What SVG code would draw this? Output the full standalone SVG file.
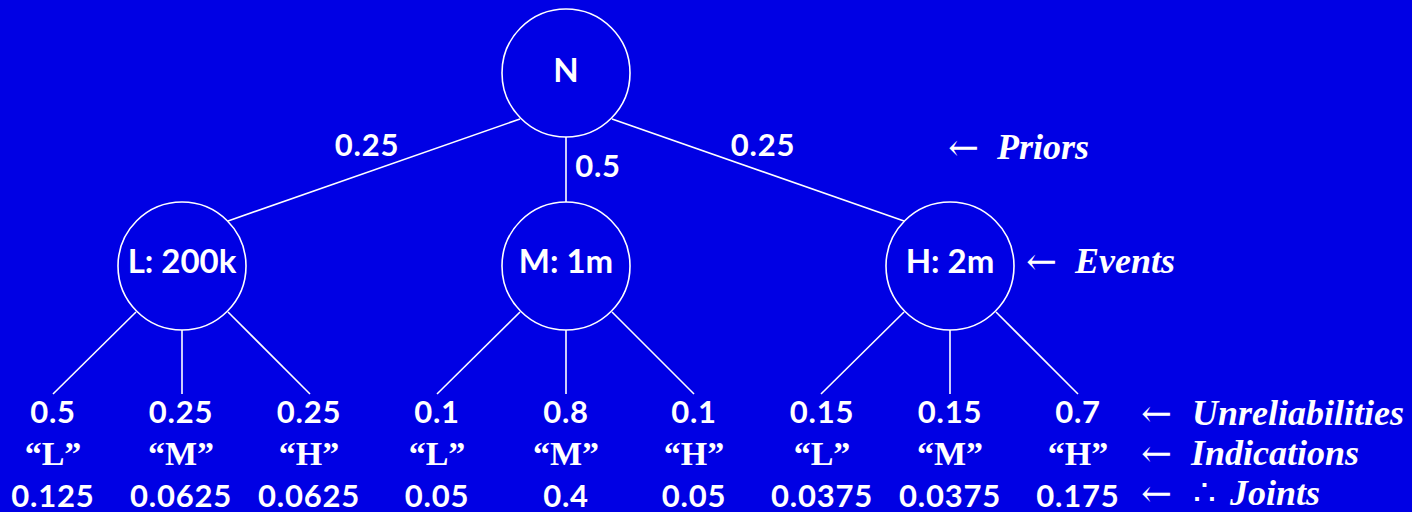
<svg xmlns="http://www.w3.org/2000/svg" width="1412" height="512" viewBox="0 0 1412 512">
<style>
.bg{fill:#0000e4}
.node{fill:none;stroke:#ffffff;stroke-width:1.6}
.edge{stroke:#ffffff;stroke-width:1.6;fill:none}
.lbl{fill:#ffffff;font-family:Lato,"Noto Sans",sans-serif;font-weight:bold;text-anchor:middle}
.nl{font-size:33px}
.num{font-size:31px;letter-spacing:0.8px}
.ind{fill:#ffffff;font-family:"Liberation Serif","Times New Roman",serif;font-weight:bold;font-size:34px;text-anchor:middle}
.ann{fill:#ffffff;font-family:"Liberation Serif","Times New Roman",serif;font-weight:bold;font-style:italic;font-size:36px}
.arr{fill:#ffffff;font-family:"DejaVu Serif",serif;font-size:37px}
.ther{font-weight:normal;font-style:normal;font-family:"Liberation Serif","DejaVu Serif",serif}
</style>
<rect class="bg" x="0" y="0" width="1412" height="512"/>
<g id="connectors">
<line class="edge" x1="520" y1="119" x2="228" y2="221"/>
<line class="edge" x1="566" y1="137" x2="566" y2="202"/>
<line class="edge" x1="612" y1="119" x2="904" y2="221"/>
<line class="edge" x1="136" y1="312" x2="53" y2="394"/>
<line class="edge" x1="182" y1="330" x2="182" y2="394"/>
<line class="edge" x1="228" y1="312" x2="310" y2="394"/>
<line class="edge" x1="520" y1="312" x2="437" y2="394"/>
<line class="edge" x1="566" y1="330" x2="566" y2="394"/>
<line class="edge" x1="612" y1="312" x2="694" y2="394"/>
<line class="edge" x1="904" y1="312" x2="821" y2="394"/>
<line class="edge" x1="950" y1="330" x2="950" y2="394"/>
<line class="edge" x1="996" y1="312" x2="1078" y2="394"/>
</g>
<g id="edge-labels">
<text class="lbl num" x="367" y="156">0.25</text>
<text class="lbl num" x="598" y="177">0.5</text>
<text class="lbl num" x="763" y="156">0.25</text>
</g>
<g id="node-N">
<circle class="node" cx="566" cy="73" r="64"/>
<text class="lbl nl" x="566" y="82">N</text>
</g>
<g id="node-L">
<circle class="node" cx="182" cy="266" r="64"/>
<text class="lbl nl" x="182" y="273">L: 200k</text>
</g>
<g id="node-M">
<circle class="node" cx="566" cy="266" r="64"/>
<text class="lbl nl" x="566" y="273">M: 1m</text>
</g>
<g id="node-H">
<circle class="node" cx="950" cy="266" r="64"/>
<text class="lbl nl" x="950" y="273">H: 2m</text>
</g>
<g id="leaf-LL"><text class="lbl num" x="53" y="423">0.5</text><text class="ind" x="53" y="465">“L”</text><text class="lbl num" x="53" y="507">0.125</text></g>
<g id="leaf-LM"><text class="lbl num" x="181" y="423">0.25</text><text class="ind" x="181" y="465">“M”</text><text class="lbl num" x="181" y="507">0.0625</text></g>
<g id="leaf-LH"><text class="lbl num" x="309" y="423">0.25</text><text class="ind" x="309" y="465">“H”</text><text class="lbl num" x="309" y="507">0.0625</text></g>
<g id="leaf-ML"><text class="lbl num" x="437" y="423">0.1</text><text class="ind" x="437" y="465">“L”</text><text class="lbl num" x="437" y="507">0.05</text></g>
<g id="leaf-MM"><text class="lbl num" x="566" y="423">0.8</text><text class="ind" x="566" y="465">“M”</text><text class="lbl num" x="566" y="507">0.4</text></g>
<g id="leaf-MH"><text class="lbl num" x="694" y="423">0.1</text><text class="ind" x="694" y="465">“H”</text><text class="lbl num" x="694" y="507">0.05</text></g>
<g id="leaf-HL"><text class="lbl num" x="822" y="423">0.15</text><text class="ind" x="822" y="465">“L”</text><text class="lbl num" x="822" y="507">0.0375</text></g>
<g id="leaf-HM"><text class="lbl num" x="950" y="423">0.15</text><text class="ind" x="950" y="465">“M”</text><text class="lbl num" x="950" y="507">0.0375</text></g>
<g id="leaf-HH"><text class="lbl num" x="1078" y="423">0.7</text><text class="ind" x="1078" y="465">“H”</text><text class="lbl num" x="1078" y="507">0.175</text></g>
<g id="annotations">
<text class="arr" x="948" y="160">←</text><text class="ann" x="997" y="159">Priors</text>
<text class="arr" x="1026" y="274">←</text><text class="ann" x="1075" y="273">Events</text>
<text class="arr" x="1141" y="426">←</text><text class="ann" x="1192" y="425">Unreliabilities</text>
<text class="arr" x="1141" y="466">←</text><text class="ann" x="1191" y="465">Indications</text>
<text class="arr" x="1141" y="506">←</text><text class="ann" x="1193" y="505"><tspan class="ther">∴</tspan><tspan x="1230">Joints</tspan></text>
</g>
</svg>
